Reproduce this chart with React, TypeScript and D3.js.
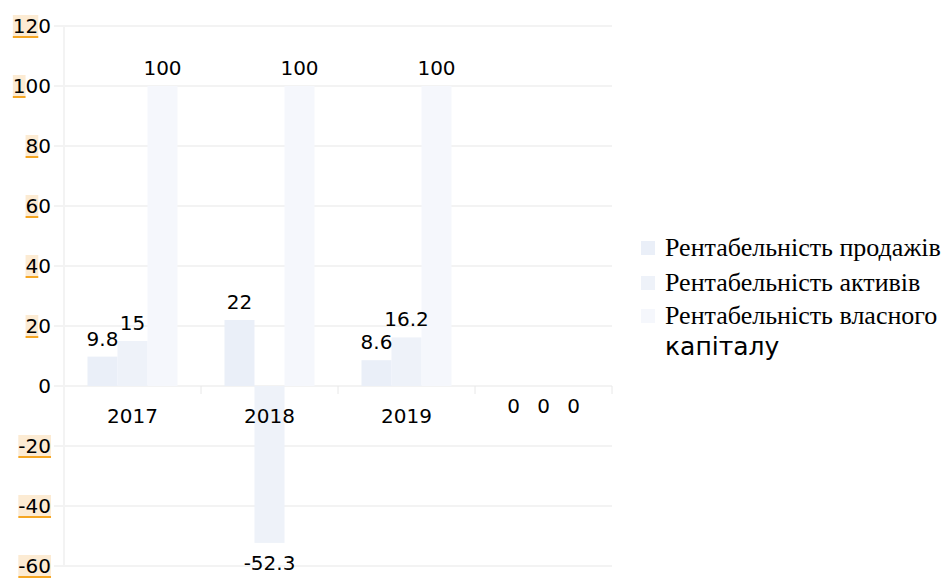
import * as d3 from "d3";
import * as React from "react";

const categories = ["2017", "2018", "2019", ""];
const seriesNames = [
  "Рентабельність продажів",
  "Рентабельність активів",
  "Рентабельність власного капіталу",
];
const salesReturn = [9.8, 22, 8.6, 0];
const assetsReturn = [15, -52.3, 16.2, 0];
const equityReturn = [100, 100, 100, 0];
const yTicks = [120, 100, 80, 60, 40, 20, 0, -20, -40, -60];
// parts of the tick labels that carry the orange marker in the picture
const tickMarked = ["12", "1", "8", "6", "4", "2", "", "-20", "-40", "-60"];

const colors = ["#eaeff8", "#eef2f9", "#f5f7fc"];

export default function App() {
  const ref = React.useRef<SVGSVGElement>(null);

  React.useEffect(() => {
    const width = 944,
      height = 578;
    const margin = { top: 26, left: 64, right: 332, bottom: 12 };
    const svg = d3.select(ref.current as SVGSVGElement);
    svg.selectAll("*").remove();

    const series = [salesReturn, assetsReturn, equityReturn];

    const x0 = d3
      .scaleBand()
      .domain(categories.map((c, i) => i + ""))
      .range([margin.left, width - margin.right])
      .padding(0);
    const x1 = d3
      .scaleBand()
      .domain(seriesNames)
      .range([0, x0.bandwidth()])
      .paddingInner(0)
      .paddingOuter(0.783);
    const y = d3.scaleLinear().domain([-60, 120]).range([height - margin.bottom, margin.top]);

    const font = "DejaVu Sans";
    const ctx = document.createElement("canvas").getContext("2d")!;
    ctx.font = "20px " + font;

    // grid
    const grid = svg.append("g");
    grid
      .selectAll("line")
      .data(yTicks)
      .enter()
      .append("line")
      .attr("x1", margin.left - 10)
      .attr("x2", width - margin.right)
      .attr("y1", (d) => y(d))
      .attr("y2", (d) => y(d))
      .attr("stroke", "#f3f3f3")
      .attr("stroke-width", 2);
    grid
      .append("line")
      .attr("x1", margin.left)
      .attr("x2", margin.left)
      .attr("y1", y(120))
      .attr("y2", y(-60))
      .attr("stroke", "#f3f3f3")
      .attr("stroke-width", 2);

    // category ticks
    grid
      .selectAll("line.cat")
      .data(categories)
      .enter()
      .append("line")
      .attr("class", "cat")
      .attr("x1", (d, i) => (x0(i + "") as number) + x0.bandwidth())
      .attr("x2", (d, i) => (x0(i + "") as number) + x0.bandwidth())
      .attr("y1", y(0))
      .attr("y2", y(0) + 8)
      .attr("stroke", "#e8e8e8")
      .attr("stroke-width", 1);

    // y tick labels
    const yl = svg.append("g");
    yTicks.forEach((t, i) => {
      const label = t + "";
      const full = ctx.measureText(label).width;
      const mark = tickMarked[i];
      const xr = 51;
      if (mark) {
        const w = ctx.measureText(mark).width;
        yl.append("rect")
          .attr("x", xr - full)
          .attr("y", y(t) - 11)
          .attr("width", w)
          .attr("height", 21)
          .attr("fill", "#fcebd3");
        yl.append("rect")
          .attr("x", xr - full)
          .attr("y", y(t) + 10)
          .attr("width", w)
          .attr("height", 2)
          .attr("fill", "#f5a623");
      }
      yl.append("text")
        .attr("x", xr)
        .attr("y", y(t) + 7)
        .attr("text-anchor", "end")
        .attr("font-family", font)
        .attr("font-size", 20)
        .attr("fill", "#000")
        .text(label);
    });

    // bars first, labels on top
    const bars = svg.append("g");
    const labels = svg.append("g");
    categories.forEach((c, ci) => {
      const gx = x0(ci + "") as number;
      series.forEach((s, si) => {
        const v = s[ci];
        const bx = gx + (x1(seriesNames[si]) as number);
        bars
          .append("rect")
          .attr("x", bx)
          .attr("width", x1.bandwidth())
          .attr("y", y(Math.max(0, v)))
          .attr("height", Math.abs(y(v) - y(0)))
          .attr("fill", colors[si]);
        labels
          .append("text")
          .attr("x", bx + x1.bandwidth() / 2)
          .attr("y", v > 0 ? y(v) - 11 : y(v) + 27)
          .attr("text-anchor", "middle")
          .attr("font-family", font)
          .attr("font-size", 20)
          .attr("fill", "#000")
          .text(v + "");
      });
      labels
        .append("text")
        .attr("x", gx + x0.bandwidth() / 2)
        .attr("y", y(0) + 37)
        .attr("text-anchor", "middle")
        .attr("font-family", font)
        .attr("font-size", 20)
        .attr("fill", "#000")
        .text(c);
    });

    // legend
    const legend = svg.append("g");
    const rowY = [256, 291, 324];
    seriesNames.forEach((name, i) => {
      legend
        .append("rect")
        .attr("x", 641)
        .attr("y", rowY[i] - 15)
        .attr("width", 14)
        .attr("height", 14)
        .attr("fill", colors[i]);
      const words = name.split(" ");
      const first = i === 2 ? words.slice(0, 2).join(" ") : name;
      legend
        .append("text")
        .attr("x", 665)
        .attr("y", rowY[i])
        .attr("font-family", "Liberation Serif")
        .attr("font-size", 26)
        .attr("fill", "#000")
        .text(first);
      if (i === 2) {
        legend
          .append("text")
          .attr("x", 665)
          .attr("y", rowY[i] + 31)
          .attr("font-family", font)
          .attr("font-size", 25)
          .attr("fill", "#000")
          .text(words.slice(2).join(" "));
      }
    });
  }, []);

  return (
    <svg
      ref={ref}
      width={944}
      height={578}
      style={{ position: "absolute", left: 0, top: 0, background: "#fff" }}
    />
  );
}
